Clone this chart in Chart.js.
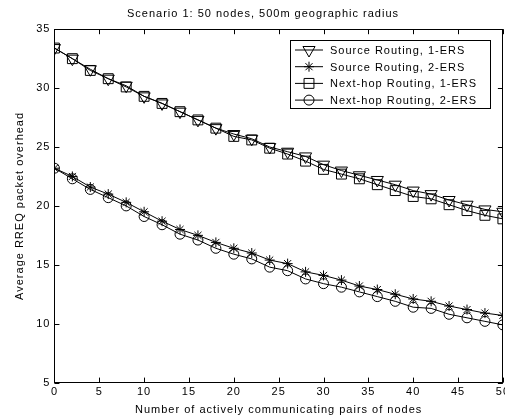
<!DOCTYPE html>
<html>
<head>
<meta charset="utf-8">
<script src="https://cdn.jsdelivr.net/npm/chart.js@4"></script>
<style>
  html, body { margin: 0; padding: 0; background: #fff; overflow: hidden; }
  #wrap { position: absolute; left: 0; top: 0; width: 513px; height: 419px; }
</style>
</head>
<body>
<div id="wrap"><canvas id="myChart" width="513" height="419"></canvas></div>
<script>
'use strict';

const pairs = [0, 2, 4, 6, 8, 10, 12, 14, 16, 18, 20, 22, 24, 26, 28, 30, 32, 34, 36, 38, 40, 42, 44, 46, 48, 50];

let srcOne = [33.4, 32.5, 31.6, 30.8, 30.2, 29.3, 28.7, 28.0, 27.3, 26.6, 26.1, 25.7, 25.0, 24.6, 24.2, 23.5, 23.0, 22.6, 22.2, 21.8, 21.3, 21.0, 20.5, 20.1, 19.7, 19.5];
let srcTwo = [23.2, 22.5, 21.6, 21.0, 20.3, 19.5, 18.7, 18.0, 17.5, 16.9, 16.4, 16.0, 15.4, 15.1, 14.4, 14.1, 13.7, 13.2, 12.9, 12.5, 12.1, 11.9, 11.5, 11.2, 10.9, 10.7];
let nhOne = [33.4, 32.5, 31.5, 30.8, 30.1, 29.3, 28.7, 28.0, 27.3, 26.6, 25.9, 25.6, 24.9, 24.4, 23.8, 23.1, 22.7, 22.3, 21.8, 21.3, 20.8, 20.6, 20.1, 19.6, 19.2, 18.9];
let nhTwo = [23.2, 22.3, 21.4, 20.7, 20.0, 19.1, 18.4, 17.6, 17.1, 16.4, 15.9, 15.5, 14.8, 14.5, 13.8, 13.4, 13.1, 12.7, 12.3, 11.9, 11.4, 11.3, 10.8, 10.5, 10.2, 9.9];

let labels = ['Source Routing, 1-ERS', 'Source Routing, 2-ERS', 'Next-hop Routing, 1-ERS', 'Next-hop Routing, 2-ERS'];
let yTicks = [5, 10, 15, 20, 25, 30, 35];
let xTicks = [0, 5, 10, 15, 20, 25, 30, 35, 40, 45, 50];

const ctx = document.getElementById('myChart');
const font = "'Liberation Sans', Arial, sans-serif";

function toPoints(vals) {
  let out = [];
  for (let i = 0; i < pairs.length; i++) {
    out.push({ x: pairs[i], y: vals[i] });
  }
  return out;
}

function makeSet(label, vals, style, radius, rot) {
  return {
    label: label,
    data: toPoints(vals),
    borderColor: '#000',
    borderWidth: 1,
    pointStyle: style,
    pointRadius: radius,
    pointRotation: rot,
    pointBorderColor: '#000',
    pointBackgroundColor: 'rgba(0,0,0,0)',
    pointBorderWidth: 1,
    tension: 0,
    fill: false
  };
}

// the old matlab export has wide letter spacing
const spacingPlugin = {
  id: 'spacing',
  beforeUpdate(chart) { chart.ctx.letterSpacing = '1px'; },
  beforeDraw(chart) { chart.ctx.letterSpacing = '1px'; }
};

// box round the plot, inward ticks and the legend
const framePlugin = {
  id: 'frame',
  afterDraw(chart) {
    const c = chart.ctx;
    const a = chart.chartArea;
    const xs = chart.scales.x;
    const ys = chart.scales.y;
    c.save();
    c.strokeStyle = '#000';
    c.lineWidth = 1;
    c.strokeRect(Math.round(a.left) + 0.5, Math.round(a.top) + 0.5, Math.round(a.right - a.left), Math.round(a.bottom - a.top));
    c.beginPath();
    xTicks.forEach(function (v) {
      let px = Math.round(xs.getPixelForValue(v)) + 0.5;
      c.moveTo(px, a.bottom); c.lineTo(px, a.bottom - 5);
      c.moveTo(px, a.top); c.lineTo(px, a.top + 5);
    });
    yTicks.forEach(function (v) {
      let py = Math.round(ys.getPixelForValue(v)) + 0.5;
      c.moveTo(a.left, py); c.lineTo(a.left + 5, py);
      c.moveTo(a.right, py); c.lineTo(a.right - 5, py);
    });
    c.stroke();

    // legend
    const lx = 290, ly = 40, lw = 200, lh = 68;
    c.fillStyle = '#fff';
    c.fillRect(lx, ly, lw, lh);
    c.strokeRect(lx + 0.5, ly + 0.5, lw, lh);
    c.font = '11px ' + font;
    c.textBaseline = 'middle';
    chart.data.datasets.forEach(function (ds, i) {
      let rowY = ly + 10 + i * 16.7;
      c.beginPath();
      c.moveTo(lx + 5, rowY);
      c.lineTo(lx + 33, rowY);
      c.stroke();
      c.fillStyle = 'rgba(0,0,0,0)';
      Chart.helpers.drawPoint(c, {
        pointStyle: ds.pointStyle,
        rotation: ds.pointRotation,
        radius: ds.pointRadius,
        borderWidth: 1
      }, lx + 19, rowY);
      c.fillStyle = '#000';
      c.fillText(ds.label, lx + 40, rowY + 1);
    });
    c.restore();
  }
};

new Chart(ctx, {
  type: 'line',
  data: {
    datasets: [
      makeSet(labels[0], srcOne, 'triangle', 7, 180),
      makeSet(labels[1], srcTwo, 'star', 5, 0),
      makeSet(labels[2], nhOne, 'rect', 7, 0),
      makeSet(labels[3], nhTwo, 'circle', 5, 0)
    ]
  },
  options: {
    responsive: false,
    animation: false,
    layout: { padding: { left: 13, right: 0, top: 0, bottom: 2 } },
    plugins: {
      legend: { display: false },
      tooltip: { enabled: false },
      title: {
        display: true,
        text: 'Scenario 1: 50 nodes, 500m geographic radius',
        color: '#000',
        font: { family: font, size: 11, weight: 'normal' },
        padding: { top: 7, bottom: 9 }
      }
    },
    scales: {
      x: {
        type: 'linear',
        min: 0,
        max: 50,
        afterBuildTicks: function (axis) {
          axis.ticks = xTicks.map(function (v) { return { value: v }; });
        },
        grid: { display: false, drawTicks: false },
        border: { display: false },
        ticks: { color: '#000', font: { family: font, size: 11 }, padding: 3, maxRotation: 0 },
        title: {
          display: true,
          text: 'Number of actively communicating pairs of nodes',
          color: '#000',
          font: { family: font, size: 11 },
          padding: { top: 2, bottom: 0 }
        }
      },
      y: {
        min: 5,
        max: 35,
        afterBuildTicks: function (axis) {
          axis.ticks = yTicks.map(function (v) { return { value: v }; });
        },
        grid: { display: false, drawTicks: false },
        border: { display: false },
        ticks: { color: '#000', font: { family: font, size: 11 }, padding: 4 },
        title: {
          display: true,
          text: 'Average RREQ packet overhead',
          color: '#000',
          font: { family: font, size: 11 },
          padding: { top: 0, bottom: 6 }
        }
      }
    }
  },
  plugins: [spacingPlugin, framePlugin]
});
</script>
</body>
</html>
